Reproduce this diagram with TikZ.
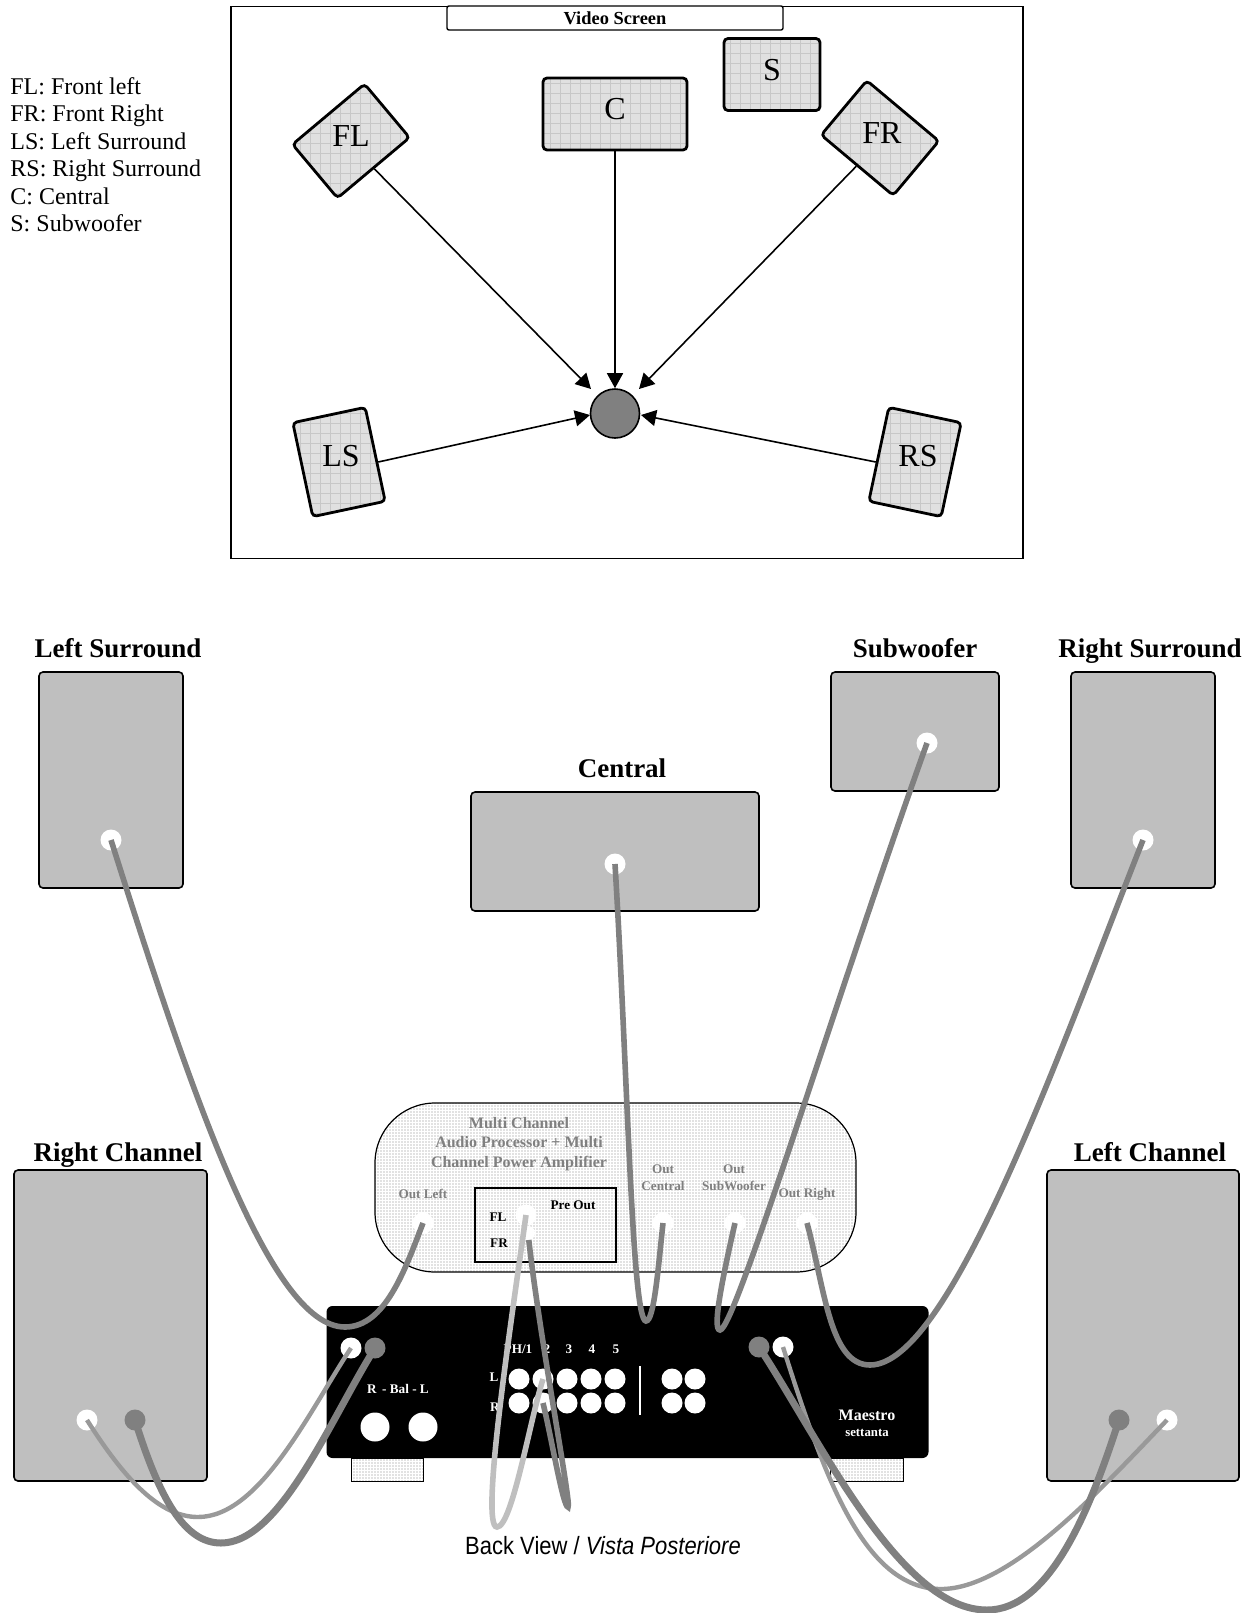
\documentclass[tikz,border=0pt]{standalone}
\usepackage{fontspec}
\setmainfont{Liberation Serif}
\newfontfamily\narrowfont[FakeStretch=0.88]{Liberation Sans}
\usetikzlibrary{patterns.meta,arrows.meta}
\tikzset{
  tile/.style={draw,line width=1.4pt,rounded corners=2pt,inner sep=0pt,
    preaction={fill=black!12},
    preaction={pattern={Lines[angle=0,distance=5pt,line width=.25pt]},pattern color=black!22},
    preaction={pattern={Lines[angle=90,distance=5pt,line width=.25pt]},pattern color=black!22}},
  tilelabel/.style={font=\fontsize{16}{16}\selectfont},
  speaker/.style={draw,line width=.8pt,rounded corners=2pt,fill=black!25},
  hole/.style={circle,fill=white,inner sep=0pt,minimum size=10.5pt},
  plug/.style={circle,fill=black!50,inner sep=0pt,minimum size=10.5pt},
  bighole/.style={circle,fill=white,inner sep=0pt,minimum size=14.5pt},
  heading/.style={anchor=base,font=\fontsize{13.5}{13.5}\selectfont\bfseries},
  faint/.style={text=black!50,font=\fontsize{6.6}{8.5}\selectfont\bfseries,align=center},
  panel/.style={text=white,font=\fontsize{6.6}{8}\selectfont\bfseries},
  dotted fill/.style={pattern={Dots[distance=1.5pt,radius=.36pt]},pattern color=black!50},
  cable/.style={draw=black!50,line width=2.8pt},
  thin cable/.style={draw=black!40,line width=2.2pt},
  thick cable/.style={draw=black!50,line width=3.5pt},
  pale cable/.style={draw=black!25,line width=2.8pt},
  ray/.style={draw,line width=.8pt,-{Triangle[length=7.5pt,width=8pt]}}
}
\begin{document}
\begin{tikzpicture}[x=.5pt,y=-.5pt]
  \useasboundingbox (0,0) rectangle (1257,1613);

  \node[draw,line width=.8pt,minimum width=396.2pt,minimum height=276pt,inner sep=0pt] (room) at (627,282.5) {};
  \node[draw,line width=.7pt,rounded corners=1pt,fill=white,minimum width=168pt,minimum height=12pt,inner sep=0pt,font=\fontsize{9.2}{9.2}\selectfont\bfseries] (screen) at (615,18) {Video Screen};

  \node[tile,minimum width=72pt,minimum height=36pt] (C) at (615,114) {};
  \node[tile,minimum width=48pt,minimum height=36pt] (S) at (772,74.5) {};
  \node[tile,minimum width=47pt,minimum height=35pt,rotate=40] (FL) at (351,141) {};
  \node[tile,minimum width=47pt,minimum height=35.5pt,rotate=-40] (FR) at (880,138) {};
  \node[tile,minimum width=37pt,minimum height=48pt,rotate=12] (LS) at (339,462) {};
  \node[tile,minimum width=37pt,minimum height=48pt,rotate=-12] (RS) at (915,462) {};
  \node[tilelabel] (textC) at (615,109) {C};
  \node[tilelabel] (textS) at (772,70) {S};
  \node[tilelabel] (textFL) at (351,136) {FL};
  \node[tilelabel] (textFR) at (882,133) {FR};
  \node[tilelabel] (textLS) at (341,456) {LS};
  \node[tilelabel] (textRS) at (918,456) {RS};
  \node[circle,draw,line width=.8pt,fill=black!50,minimum size=24.5pt,inner sep=0pt] (listener) at (615,413.5) {};

  \coordinate (tipFL) at (591,389);
  \coordinate (tipFR) at (639,389);
  \coordinate (tipLS) at (590,415);
  \coordinate (tipRS) at (641,415);
  \draw[ray] (FL.south) -- (tipFL);
  \draw[ray] (C.south) -- (listener.north);
  \draw[ray] (FR.south) -- (tipFR);
  \draw[ray] (LS.-12) -- (tipLS);
  \draw[ray] (RS.192) -- (tipRS);

  \node[anchor=north west,align=left,inner sep=0pt,font=\fontsize{12}{13.75}\selectfont] (legend) at (10,77) {FL: Front left\\FR: Front Right\\LS: Left Surround\\RS: Right Surround\\C: Central\\S: Subwoofer};

  \node[speaker,minimum width=72pt,minimum height=108pt] (lsBox) at (111,780) {};
  \node[speaker,minimum width=72pt,minimum height=108pt] (rsBox) at (1143,780) {};
  \node[speaker,minimum width=144pt,minimum height=59.5pt] (cBox) at (615,851.5) {};
  \node[speaker,minimum width=84pt,minimum height=59.5pt] (sBox) at (915,731.5) {};
  \node[speaker,minimum width=96.5pt,minimum height=155.5pt] (rcBox) at (110.5,1325.5) {};
  \node[speaker,minimum width=96pt,minimum height=155.5pt] (lcBox) at (1143,1325.5) {};

  \node[heading] (lsLabel) at (118,657) {Left Surround};
  \node[heading] (rsLabel) at (1150,657) {Right Surround};
  \node[heading] (sLabel) at (915,657) {Subwoofer};
  \node[heading] (cLabel) at (622,777) {Central};
  \node[heading] (rcLabel) at (118,1161) {Right Channel};
  \node[heading] (lcLabel) at (1150,1161) {Left Channel};

  \node[hole] (lsHole) at (111,840) {};
  \node[hole] (rsHole) at (1143,840) {};
  \node[hole] (cHole) at (615,864) {};
  \node[hole] (sHole) at (927,743) {};
  \node[hole] (rcWhite) at (87,1420) {};
  \node[plug] (rcGray) at (135,1420) {};
  \node[plug] (lcGray) at (1119,1420) {};
  \node[hole] (lcWhite) at (1167,1420) {};

  \node[draw,line width=.6pt,rounded corners=30pt,minimum width=240.5pt,minimum height=84.5pt,dotted fill] (proc) at (615.5,1187.5) {};
  \node[faint,font=\fontsize{8}{9.7}\selectfont\bfseries] (procLabel) at (519,1144) {Multi Channel\\Audio Processor + Multi\\Channel Power Amplifier};
  \node[faint] (outLeft) at (423,1194) {Out Left};
  \node[faint] (outCentral) at (663,1178) {Out\\Central};
  \node[faint] (outSub) at (734,1178) {Out\\SubWoofer};
  \node[faint] (outRight) at (807,1194) {Out Right};
  \node[draw,line width=1.2pt,minimum width=70.5pt,minimum height=37pt,inner sep=0pt] (preBox) at (545.5,1225) {};
  \node[font=\fontsize{6.6}{6.6}\selectfont\bfseries] (preLabel) at (573,1205) {Pre Out};
  \node[font=\fontsize{6.6}{6.6}\selectfont\bfseries] (flLabel) at (498,1217) {FL};
  \node[font=\fontsize{6.6}{6.6}\selectfont\bfseries] (frLabel) at (499,1243) {FR};

  \node[hole] (outLeftHole) at (423,1223) {};
  \node[hole] (outCentralHole) at (663,1223) {};
  \node[hole] (outSubHole) at (735,1223) {};
  \node[hole] (outRightHole) at (807,1223) {};
  \node[hole,minimum size=7pt] (preFR) at (528,1233) {};
  \node[hole] (preFL) at (526,1215) {};

  \node[draw,line width=.5pt,minimum width=36pt,minimum height=11.5pt,inner sep=0pt,dotted fill] (footLeft) at (387,1469.5) {};
  \node[draw,line width=.5pt,minimum width=36.5pt,minimum height=11.5pt,inner sep=0pt,dotted fill] (footRight) at (866.5,1469.5) {};
  \node[fill=black,rounded corners=3pt,minimum width=301pt,minimum height=76pt,inner sep=0pt] (amp) at (627.5,1382) {};

  \node[hole] (ampRW) at (351,1348) {};
  \node[plug] (ampRG) at (375,1348) {};
  \node[plug] (ampLG) at (759,1347) {};
  \node[hole] (ampLW) at (783,1347) {};
  \node[bighole] (balR) at (375,1427) {};
  \node[bighole] (balL) at (423,1427) {};
  \node[panel] (balLabel) at (398,1389) {R\, - Bal - L};

  \foreach \n/\x in {1/519,2/543,3/567,4/591,5/615}{
    \node[hole] (inL\n) at (\x,1379) {};
    \node[hole] (inR\n) at (\x,1403) {};
  }
  \foreach \n/\x in {1/672,2/695}{
    \node[hole] (auxL\n) at (\x,1379) {};
    \node[hole] (auxR\n) at (\x,1403) {};
  }
  \node[panel] (ph) at (518,1349) {PH/1};
  \node[panel] (num2) at (547,1349) {2};
  \node[panel] (num3) at (569,1349) {3};
  \node[panel] (num4) at (592,1349) {4};
  \node[panel] (num5) at (616,1349) {5};
  \node[panel] (rowL) at (494,1377) {L};
  \node[panel] (rowR) at (495,1407) {R};
  \coordinate (sepTop) at (640,1366);
  \coordinate (sepEnd) at (640,1415);
  \draw[white,line width=.7pt] (sepTop) -- (sepEnd);
  \node[panel,font=\fontsize{8}{8}\selectfont\bfseries] (maestro) at (867,1415) {Maestro};
  \node[panel,font=\fontsize{6.4}{6.4}\selectfont\bfseries] (settanta) at (867,1433) {settanta};

  \node[font=\fontsize{12.5}{12.5}\narrowfont] (backView) at (603,1546) {Back View / \textit{Vista Posteriore}};

  \draw[cable] (lsHole.center) .. controls (190,1090) and (270,1327) .. (345,1327) .. controls (385,1327) and (405,1270) .. (outLeftHole.center);
  \draw[cable] (cHole.center) .. controls (628,1080) and (632,1321) .. (646,1321) .. controls (654,1321) and (658,1270) .. (outCentralHole.center);
  \draw[cable] (sHole.center) .. controls (835,1000) and (735,1330) .. (720,1330) .. controls (712,1330) and (722,1280) .. (outSubHole.center);
  \draw[cable] (rsHole.center) .. controls (1060,1050) and (950,1365) .. (870,1365) .. controls (830,1365) and (825,1290) .. (outRightHole.center);
  \draw[thin cable] (rcWhite.center) .. controls (125,1480) and (160,1517) .. (198,1517) .. controls (260,1517) and (310,1410) .. (ampRW.center);
  \draw[thick cable] (rcGray.center) .. controls (160,1500) and (185,1543) .. (221,1543) .. controls (280,1543) and (330,1420) .. (ampRG.center);
  \draw[thin cable] (lcWhite.center) .. controls (1100,1490) and (1010,1589) .. (941,1589) .. controls (865,1589) and (825,1480) .. (ampLW.center);
  \draw[thick cable] (lcGray.center) .. controls (1090,1510) and (1050,1610) .. (987,1610) .. controls (900,1610) and (820,1440) .. (ampLG.center);
  \draw[cable,shorten <=3.5pt] (preFR.center) .. controls (540,1340) and (572,1507) .. (568,1507) .. controls (563,1507) and (552,1440) .. (inR2.center);
  \draw[pale cable] (preFL.center) .. controls (510,1330) and (480,1527) .. (497,1527) .. controls (512,1527) and (530,1420) .. (inL2.center);
\end{tikzpicture}
\end{document}
